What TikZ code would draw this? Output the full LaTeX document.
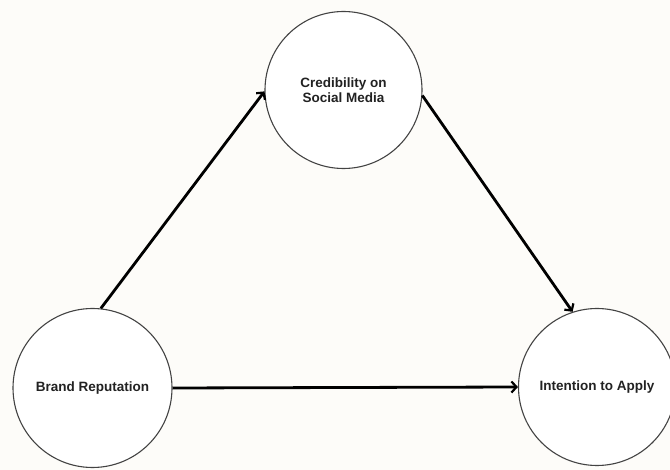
\documentclass[tikz,border=0pt]{standalone}
\usepackage{fontspec}
\setmainfont{Liberation Sans}
\usetikzlibrary{arrows.meta}
\definecolor{bg}{HTML}{FDFCF9}
\definecolor{ink}{HTML}{222222}
\begin{document}
\begin{tikzpicture}[x=1pt,y=-1pt,
  concept/.style={circle,draw=ink!85,line width=1.1pt,fill=white,minimum size=157pt,inner sep=0pt,
    font=\fontsize{13.5}{15.5}\selectfont\bfseries,text=ink,align=center},
  link/.style={draw=black,line width=2.8pt,-{Straight Barb[length=5pt,width=11pt,line width=2.2pt]}}]
\useasboundingbox (0,0) rectangle (670,470);
\fill[bg] (0,0) rectangle (670,470);
\node[concept] (cred) at (343.5,90) {Credibility on\\Social Media};
\node[concept,minimum size=159pt] (brand) at (92.5,388) {Brand Reputation};
\node[concept] (intent) at (597,387) {Intention to Apply};
\draw[link] (brand.84) -- (cred.181);
\draw[link] (cred.356) -- (intent.108);
\draw[link] (brand.east) -- (intent.west);
\end{tikzpicture}
\end{document}
